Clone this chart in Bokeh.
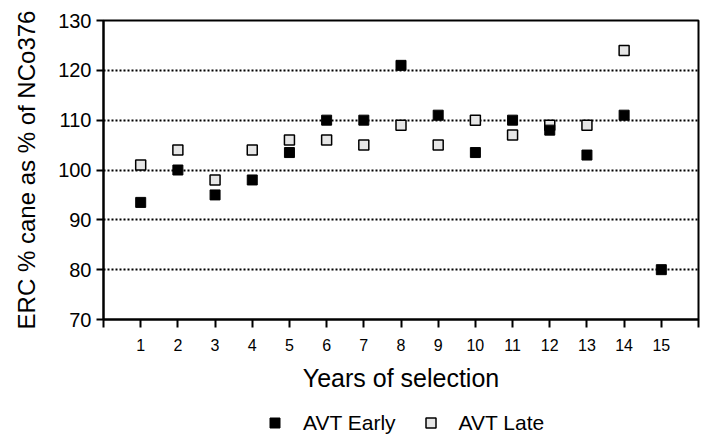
from bokeh.plotting import figure
from bokeh.models import FixedTicker, Legend, LegendItem, Range1d, ColumnDataSource
from bokeh.layouts import column
from bokeh.embed import file_html
from bokeh.resources import INLINE

years = list(range(1, 16))
avt_early = [93.5, 100, 95, 98, 103.5, 110, 110, 121, 111, 103.5, 110, 108, 103, 111, 80]
years_late = list(range(1, 15))
avt_late = [101, 104, 98, 104, 106, 106, 105, 109, 105, 110, 107, 109, 109, 124]
y_ticks = [70, 80, 90, 100, 110, 120, 130]
x_ticks = list(range(0, 17))

FONT = "Liberation Sans"

p = figure(width=700, height=400, output_backend="svg", toolbar_location=None,
           x_range=Range1d(0, 16), y_range=Range1d(70, 130),
           min_border_left=103, min_border_top=20, min_border_right=2, min_border_bottom=81)

p.outline_line_color = "black"
p.outline_line_width = 2

p.xgrid.visible = False
p.ygrid.ticker = FixedTicker(ticks=[80, 90, 100, 110, 120])
p.ygrid.grid_line_color = "black"
p.ygrid.grid_line_dash = "2 2"
p.ygrid.grid_line_width = 2

for ax in (p.xaxis[0], p.yaxis[0]):
    ax.axis_line_width = 2
    ax.axis_line_color = "black"
    ax.major_tick_line_width = 2
    ax.major_tick_line_color = "black"
    ax.major_tick_in = 0
    ax.minor_tick_line_color = None
    ax.major_label_text_color = "black"
    ax.major_label_text_font = FONT
    ax.axis_label_text_font = FONT
    ax.axis_label_text_font_style = "normal"
    ax.axis_label_text_color = "black"

p.xaxis.ticker = FixedTicker(ticks=x_ticks)
p.xaxis.major_label_overrides = {0: "", 16: ""}
p.xaxis.major_tick_out = 8
p.xaxis.major_label_text_font_size = "16px"
p.xaxis.major_label_standoff = 11
p.xaxis.axis_label = "Years of selection"
p.xaxis.axis_label_text_font_size = "25px"
p.xaxis.axis_label_standoff = 10

p.yaxis.ticker = FixedTicker(ticks=y_ticks)
p.yaxis.major_tick_out = 7
p.yaxis.major_label_text_font_size = "20px"
p.yaxis.major_label_standoff = 5
p.yaxis.axis_label = "ERC % cane as % of NCo376"
p.yaxis.axis_label_text_font_size = "24px"
p.yaxis.axis_label_standoff = 15

src_e = ColumnDataSource(dict(x=years, y=avt_early))
src_l = ColumnDataSource(dict(x=years_late, y=avt_late))

late_style = dict(marker="square", size=10, fill_color="#e6e6e6", line_color="black", line_width=1.5)
early_style = dict(marker="square", size=10, fill_color="black", line_color="black")

p.scatter("x", "y", source=src_l, **late_style)
p.scatter("x", "y", source=src_e, **early_style)

# legend strip below the chart
p2 = figure(width=700, height=35, output_backend="svg", toolbar_location=None,
            x_range=Range1d(0, 16), y_range=Range1d(70, 130),
            min_border_left=0, min_border_right=0, min_border_top=0, min_border_bottom=0)
p2.axis.visible = False
p2.grid.visible = False
p2.outline_line_color = None
lg_e = p2.scatter("x", "y", source=src_e, visible=False, **early_style)
lg_l = p2.scatter("x", "y", source=src_l, visible=False, **late_style)

legend = Legend(items=[LegendItem(label="AVT Early", renderers=[lg_e]),
                       LegendItem(label="AVT Late", renderers=[lg_l])],
                location=(159, 0), orientation="horizontal",
                glyph_width=25, glyph_height=25, label_standoff=16, spacing=22,
                padding=0, margin=0, border_line_color=None, background_fill_alpha=0,
                label_text_font=FONT, label_text_font_size="21px", label_text_color="black")
p2.add_layout(legend, "center")

layout = column(p, p2, spacing=0)
open("out.html", "w").write(file_html(layout, INLINE))
